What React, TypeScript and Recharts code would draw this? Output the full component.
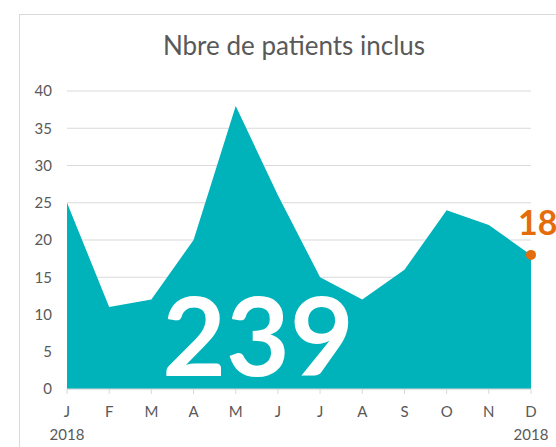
import React from 'react';
import { AreaChart, Area, XAxis, YAxis, CartesianGrid } from 'recharts';

const months = ['J', 'F', 'M', 'A', 'M', 'J', 'J', 'A', 'S', 'O', 'N', 'D'];
const patients = [25, 11, 12, 20, 38, 26, 15, 12, 16, 24, 22, 18];
const yTicks = [0, 5, 10, 15, 20, 25, 30, 35, 40];
const yearLabel = '2018';

const data = months.map((m, i) => ({ key: `${m}${i}`, month: m, value: patients[i] }));
const total = patients.reduce((a, b) => a + b, 0);
const lastIndex = patients.length - 1;

const TEAL = '#00B2B9';
const ORANGE = '#E46C0A';
const GREY = '#595959';
const FONT = 'Lato, "Open Sans", sans-serif';

const MonthTick = (props: any) => {
    const { x, y, payload, index } = props;
    const showYear = index === 0 || index === lastIndex;
    return (
        <g>
            <text x={x} y={y} dy="0.71em" textAnchor="middle" fill={GREY} fontSize={15} fontFamily={FONT}>
                {months[index] ?? payload.value}
            </text>
            {showYear && (
                <text x={x} y={y + 23} dy="0.71em" textAnchor="middle" fill={GREY} fontSize={15} fontFamily={FONT}>
                    {yearLabel}
                </text>
            )}
        </g>
    );
};

const LastDot = (props: any) => {
    const { cx, cy, index } = props;
    if (index !== lastIndex) return <g key={`d${index}`} />;
    return <circle key={`d${index}`} cx={cx} cy={cy} r={5} fill={ORANGE} />;
};

const LastLabel = (props: any) => {
    const { x, y, index, value } = props;
    if (index !== lastIndex) return null;
    return (
        <text x={x - 13} y={y - 20} fill={ORANGE} fontSize={34} fontWeight={700} fontFamily={FONT}>
            {value}
        </text>
    );
};

export default function App() {
    return (
        <div style={{ position: 'absolute', left: 0, top: 0, width: 556, height: 447, overflow: 'hidden', background: '#fff' }}>
            <div style={{ position: 'absolute', left: 19, top: 14, width: 600, height: 500, border: '1.5px solid #d9d9d9' }} />
            <div style={{ position: 'absolute', left: 0, top: 29, width: 588, textAlign: 'center', fontFamily: FONT, fontSize: 26, color: GREY }}>
                Nbre de patients inclus
            </div>
            <AreaChart width={556} height={447} data={data} margin={{ top: 91, right: 25, bottom: 28, left: 0 }} style={{ position: 'absolute', left: 0, top: 0 }}>
                <CartesianGrid horizontal vertical={false} stroke="#d9d9d9" />
                <XAxis
                    dataKey="key"
                    stroke="#d9d9d9"
                    tickSize={5}
                    tickMargin={12}
                    tick={<MonthTick />}
                    interval={0}
                />
                <YAxis
                    width={67}
                    domain={[0, 40]}
                    ticks={yTicks}
                    axisLine={false}
                    tickLine={false}
                    tickMargin={9}
                    tick={{ fill: GREY, fontSize: 15, fontFamily: FONT }}
                />
                <Area
                    type="linear"
                    dataKey="value"
                    stroke="none"
                    fill={TEAL}
                    fillOpacity={1}
                    dot={<LastDot />}
                    activeDot={false}
                    label={<LastLabel />}
                    isAnimationActive={false}
                />
            </AreaChart>
            <div style={{ position: 'absolute', left: 158, top: 268, width: 200, textAlign: 'center', fontFamily: FONT, fontSize: 110, fontWeight: 700, color: '#fff', lineHeight: '130px' }}>
                {total}
            </div>
        </div>
    );
}
